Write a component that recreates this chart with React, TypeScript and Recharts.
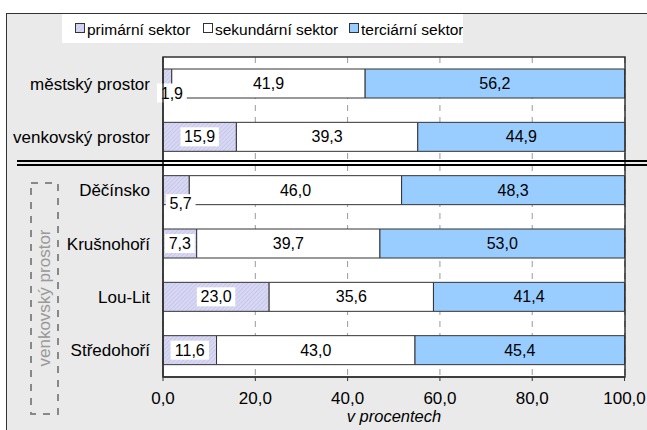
import React from 'react';
import { BarChart, Bar, XAxis, YAxis, CartesianGrid, LabelList } from 'recharts';

const categories = ['městský prostor', 'venkovský prostor', 'Děčínsko', 'Krušnohoří', 'Lou-Lit', 'Středohoří'];
const primary = [1.9, 15.9, 5.7, 7.3, 23.0, 11.6];
const secondary = [41.9, 39.3, 46.0, 39.7, 35.6, 43.0];
const tertiary = [56.2, 44.9, 48.3, 53.0, 41.4, 45.4];
const xTicks = [0, 20, 40, 60, 80, 100];
const seriesNames = ['primární sektor', 'sekundární sektor', 'terciární sektor'];
const groupLabel = 'venkovský prostor';
const axisTitle = 'v procentech';

const data = categories.map((name, i) => ({
  name,
  primary: primary[i],
  secondary: secondary[i],
  tertiary: tertiary[i],
}));

const FONT = '"Liberation Sans", Arial, sans-serif';
const fmt = (v: number) => v.toFixed(1).replace('.', ',');

// label with white box behind it; small slices get the label under the bar
const PrimaryLabel = (props: any) => {
  const { x, y, width, height, value } = props;
  const text = fmt(value);
  const w = text.length * 8.6 + 4;
  const h = 19;
  let cx = x + width / 2;
  let cy = y + height / 2;
  if (value < 6) {
    cx = cx + 4.5;
    cy = y + height - (value < 3 ? 5 : 1);
  }
  return (
    <g>
      <rect x={cx - w / 2} y={cy - h / 2} width={w} height={h} fill="#fff" />
      <text x={cx} y={cy} textAnchor="middle" dominantBaseline="central" fontSize={16} fontFamily={FONT} fill="#000">
        {text}
      </text>
    </g>
  );
};

const PlainLabel = (props: any) => {
  const { x, y, width, height, value } = props;
  return (
    <text x={x + width / 2} y={y + height / 2} textAnchor="middle" dominantBaseline="central" fontSize={16} fontFamily={FONT} fill="#000">
      {fmt(value)}
    </text>
  );
};

const legendColors = ['url(#hatchL)', '#ffffff', '#99ccff'];

const Hatch = ({ id }: { id: string }) => (
  <pattern id={id} width="3" height="3" patternUnits="userSpaceOnUse" patternTransform="rotate(45)">
    <rect width="3" height="3" fill="#d8d8f4" />
    <line x1="0" y1="0" x2="0" y2="3" stroke="#b6b6e0" strokeWidth="1" />
  </pattern>
);

const App: React.FC = () => {
  return (
    <div style={{ position: 'fixed', left: 0, top: 0, width: 647, height: 430, background: '#fff', overflow: 'hidden', fontFamily: FONT }}>
      <div style={{ position: 'absolute', left: 6, top: 13, width: 660, height: 440, background: '#eaeaea', borderLeft: '1.5px solid #333', borderTop: '1.5px solid #333' }} />

      {/* legend */}
      <div style={{ position: 'absolute', left: 62, top: 14, width: 401, height: 29, background: '#fff' }}>
        <svg width={401} height={29} style={{ position: 'absolute', left: 0, top: 0 }}>
          <defs>
            <Hatch id="hatchL" />
          </defs>
          {seriesNames.map((s, i) => {
            const lx = [13, 141, 287][i];
            return (
              <g key={s}>
                <rect x={lx + 0.5} y={9.5} width={9} height={9} fill={legendColors[i]} stroke="#333" strokeWidth={1} />
                <text x={lx + 12} y={15} dominantBaseline="central" fontSize={15.5} fontFamily={FONT} fill="#000">{s}</text>
              </g>
            );
          })}
        </svg>
      </div>

      <div style={{ position: 'absolute', left: 0, top: 0 }}>
        <BarChart
          width={647}
          height={430}
          data={data}
          layout="vertical"
          margin={{ top: 57, right: 22, bottom: 0, left: 0 }}
          barSize={29}
        >
          <defs>
            <Hatch id="hatch" />
          </defs>
          <CartesianGrid horizontal={false} stroke="#999" strokeDasharray="6 6" fill="#fff" />
          <XAxis
            type="number"
            domain={[0, 100]}
            ticks={xTicks}
            tickFormatter={fmt}
            height={53}
            tickSize={4}
            tickMargin={11}
            axisLine={{ stroke: '#333', strokeWidth: 1.5 }}
            tickLine={{ stroke: '#333' }}
            tick={{ fontSize: 17, fontFamily: FONT, fill: '#000' }}
          />
          <YAxis
            type="category"
            dataKey="name"
            width={163}
            tickLine={false}
            tickSize={6}
            tickMargin={7}
            axisLine={{ stroke: '#333', strokeWidth: 1.5 }}
            tick={{ fontSize: 17, fontFamily: FONT, fill: '#000' }}
          />
          <Bar dataKey="primary" stackId="a" fill="url(#hatch)" stroke="#333" strokeWidth={1} isAnimationActive={false}>
            <LabelList dataKey="primary" content={PrimaryLabel} />
          </Bar>
          <Bar dataKey="secondary" stackId="a" fill="#ffffff" stroke="#333" strokeWidth={1} isAnimationActive={false}>
            <LabelList dataKey="secondary" content={PlainLabel} />
          </Bar>
          <Bar dataKey="tertiary" stackId="a" fill="#99ccff" stroke="#333" strokeWidth={1} isAnimationActive={false}>
            <LabelList dataKey="tertiary" content={PlainLabel} />
          </Bar>
        </BarChart>
      </div>

      {/* plot frame, separator, group marker, axis title */}
      <svg width={647} height={430} style={{ position: 'absolute', left: 0, top: 0, pointerEvents: 'none' }}>
        <rect x={163} y={57} width={462} height={320} fill="none" stroke="#333" strokeWidth={1.5} />
        <line x1={17} y1={161} x2={647} y2={161} stroke="#000" strokeWidth={2} />
        <line x1={17} y1={165} x2={647} y2={165} stroke="#000" strokeWidth={2} />
        <rect x={31} y={183} width={27} height={231} fill="none" stroke="#888" strokeWidth={2} strokeDasharray="7 7" />
        <text x={50} y={298} transform="rotate(-90 50 298)" textAnchor="middle" fontSize={17} fontFamily={FONT} fill="#999">
          {groupLabel}
        </text>
        <text x={394} y={422} textAnchor="middle" fontSize={16.5} fontStyle="italic" fontFamily={FONT} fill="#000">
          {axisTitle}
        </text>
      </svg>
    </div>
  );
};

export default App;
